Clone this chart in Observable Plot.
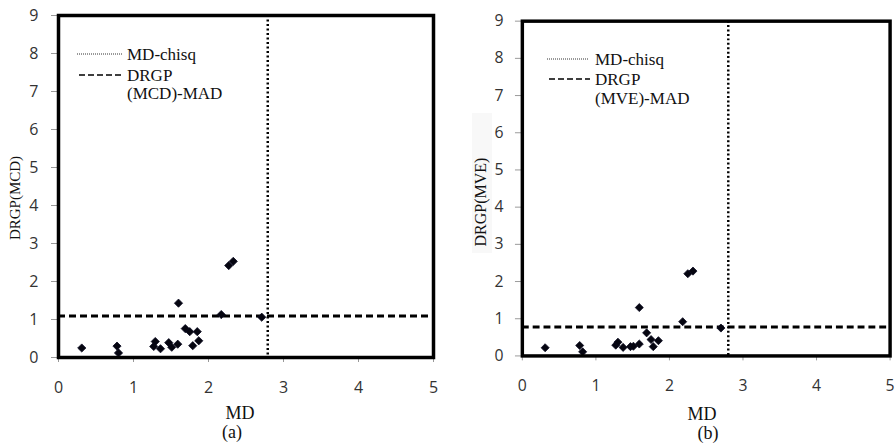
<!DOCTYPE html>
<html>
<head>
<meta charset="utf-8">
<script src="https://cdn.jsdelivr.net/npm/d3@7"></script>
<script src="https://cdn.jsdelivr.net/npm/@observablehq/plot@0.6"></script>
<style>
  html, body { margin: 0; padding: 0; background: #fff; }
  #wrap { position: relative; width: 896px; height: 445px; overflow: hidden; }
  .panel { position: absolute; top: 0; overflow: hidden; }
  .panel svg text { font-size: 16px; font-family: 'Open Sans', sans-serif; fill: #333; }
  #overlay { position: absolute; left: 0; top: 0; pointer-events: none; }
</style>
</head>
<body>
<div id="wrap">
  <div class="panel" id="left" style="left:0;width:448px;height:445px"></div>
  <div class="panel" id="right" style="left:448px;width:448px;height:445px"></div>
</div>
<script>
// ---------- data ----------
const xTicks = [0, 1, 2, 3, 4, 5];
const yTicks = [0, 1, 2, 3, 4, 5, 6, 7, 8, 9];

// Panel (a): MD vs DRGP(MCD)
const mdA   = [0.31, 0.78, 0.80, 1.27, 1.29, 1.36, 1.47, 1.51, 1.59, 1.60, 1.69, 1.75, 1.79, 1.85, 1.87, 2.17, 2.27, 2.33, 2.71];
const drgpA = [0.25, 0.30, 0.12, 0.29, 0.42, 0.23, 0.39, 0.27, 0.35, 1.43, 0.76, 0.68, 0.31, 0.68, 0.44, 1.13, 2.42, 2.53, 1.06];
const chisqA = 2.79;   // MD-chisq cutoff
const madA   = 1.09;   // DRGP(MCD)-MAD cutoff

// Panel (b): MD vs DRGP(MVE)
const mdB   = [0.31, 0.78, 0.82, 1.27, 1.30, 1.37, 1.47, 1.51, 1.59, 1.59, 1.69, 1.75, 1.78, 1.85, 2.18, 2.25, 2.32, 2.70];
const drgpB = [0.22, 0.28, 0.11, 0.29, 0.37, 0.23, 0.25, 0.26, 0.32, 1.30, 0.62, 0.44, 0.25, 0.41, 0.92, 2.21, 2.28, 0.75];
const chisqB = 2.80;
const madB   = 0.78;

const legendA = ["MD-chisq", "DRGP", "(MCD)-MAD"];
const legendB = ["MD-chisq", "DRGP", "(MVE)-MAD"];

// ---------- helpers ----------
function makePanel(md, drgp, chisq, mad, opts) {
  const data = md.map((x, i) => ({x, y: drgp[i]}));
  return Plot.plot({
    width: opts.width, height: opts.height,
    marginLeft: opts.ml, marginRight: opts.mr, marginTop: opts.mt, marginBottom: opts.mb,
    x: {domain: [0, 5]},
    y: {domain: [0, 9]},
    style: {fontFamily: "'Open Sans', sans-serif", fontSize: "16px", color: "#333", background: "transparent", overflow: "visible"},
    marks: [
      Plot.axisX({ticks: xTicks, tickSize: 5, tickPadding: opts.xpad, label: null, fontSize: 16, stroke: "#999", fill: "#333", tickFormat: d => String(d)}),
      Plot.axisY({ticks: yTicks, tickSize: 7, tickPadding: opts.ypad, label: null, fontSize: 16, stroke: "#999", fill: "#333", tickFormat: d => String(d)}),
      Plot.ruleX([chisq], {stroke: "#000", strokeWidth: 2.5, strokeDasharray: "2,2.5"}),
      Plot.ruleY([mad], {stroke: "#000", strokeWidth: 3, strokeDasharray: "7,4"}),
      Plot.dot(data, {x: "x", y: "y", symbol: "diamond2", r: 3.7, fill: "#050510", stroke: "#0a0a20", strokeWidth: 0.8}),
      Plot.frame({stroke: "#000", strokeWidth: 3.5})
    ]
  });
}

const plotA = makePanel(mdA, drgpA, chisqA, madA, {width: 448, height: 420, ml: 58, mr: 15, mt: 15, mb: 63, xpad: 19, ypad: 13});
document.getElementById("left").appendChild(plotA);

const plotB = makePanel(mdB, drgpB, chisqB, madB, {width: 455, height: 425, ml: 75, mr: 6.5, mt: 21, mb: 64, xpad: 19, ypad: 12});
document.getElementById("right").appendChild(plotB);

// ---------- titles and legends (overlay) ----------
const NS = "http://www.w3.org/2000/svg";
const ov = document.createElementNS(NS, "svg");
ov.setAttribute("id", "overlay");
ov.setAttribute("width", 896);
ov.setAttribute("height", 445);
document.getElementById("wrap").appendChild(ov);

function el(tag, attrs, text) {
  const e = document.createElementNS(NS, tag);
  for (const k in attrs) e.setAttribute(k, attrs[k]);
  if (text != null) e.textContent = text;
  ov.appendChild(e);
  return e;
}
const serif = "'Liberation Serif', 'Times New Roman', serif";

// y-axis title box in panel (b)
el("rect", {x: 472, y: 113, width: 20, height: 140, fill: "#f8f8f8"});

// Axis titles
el("text", {transform: "translate(20,198) rotate(-90)", "text-anchor": "middle", "font-family": serif, "font-size": 15, fill: "#111"}, "DRGP(MCD)");
el("text", {transform: "translate(486,202) rotate(-90)", "text-anchor": "middle", "font-family": serif, "font-size": 16, fill: "#111"}, "DRGP(MVE)");
el("text", {x: 240, y: 419, "text-anchor": "middle", "font-family": serif, "font-size": 18, fill: "#111"}, "MD");
el("text", {x: 702, y: 420, "text-anchor": "middle", "font-family": serif, "font-size": 18, fill: "#111"}, "MD");
el("text", {x: 232, y: 438, "text-anchor": "middle", "font-family": serif, "font-size": 18, fill: "#111"}, "(a)");
el("text", {x: 708, y: 439, "text-anchor": "middle", "font-family": serif, "font-size": 18, fill: "#111"}, "(b)");

// Legends
function legend(labels, lx0, lx1, tx, y1, y2, y3) {
  el("line", {x1: lx0, x2: lx1, y1: y1, y2: y1, stroke: "#333", "stroke-width": 1, "stroke-dasharray": "1,1"});
  el("line", {x1: lx0 + 2, x2: lx1 + 2, y1: y2, y2: y2, stroke: "#000", "stroke-width": 1.5, "stroke-dasharray": "6,3"});
  el("text", {x: tx, y: y1 + 6, "font-family": serif, "font-size": 17, fill: "#111"}, labels[0]);
  el("text", {x: tx, y: y2 + 5.5, "font-family": serif, "font-size": 17, fill: "#111"}, labels[1]);
  el("text", {x: tx, y: y3 + 5.5, "font-family": serif, "font-size": 17, fill: "#111"}, labels[2]);
}
legend(legendA, 77, 122, 127, 54, 75, 93);
legend(legendB, 547, 588, 595, 59, 79, 98);
</script>
</body>
</html>
